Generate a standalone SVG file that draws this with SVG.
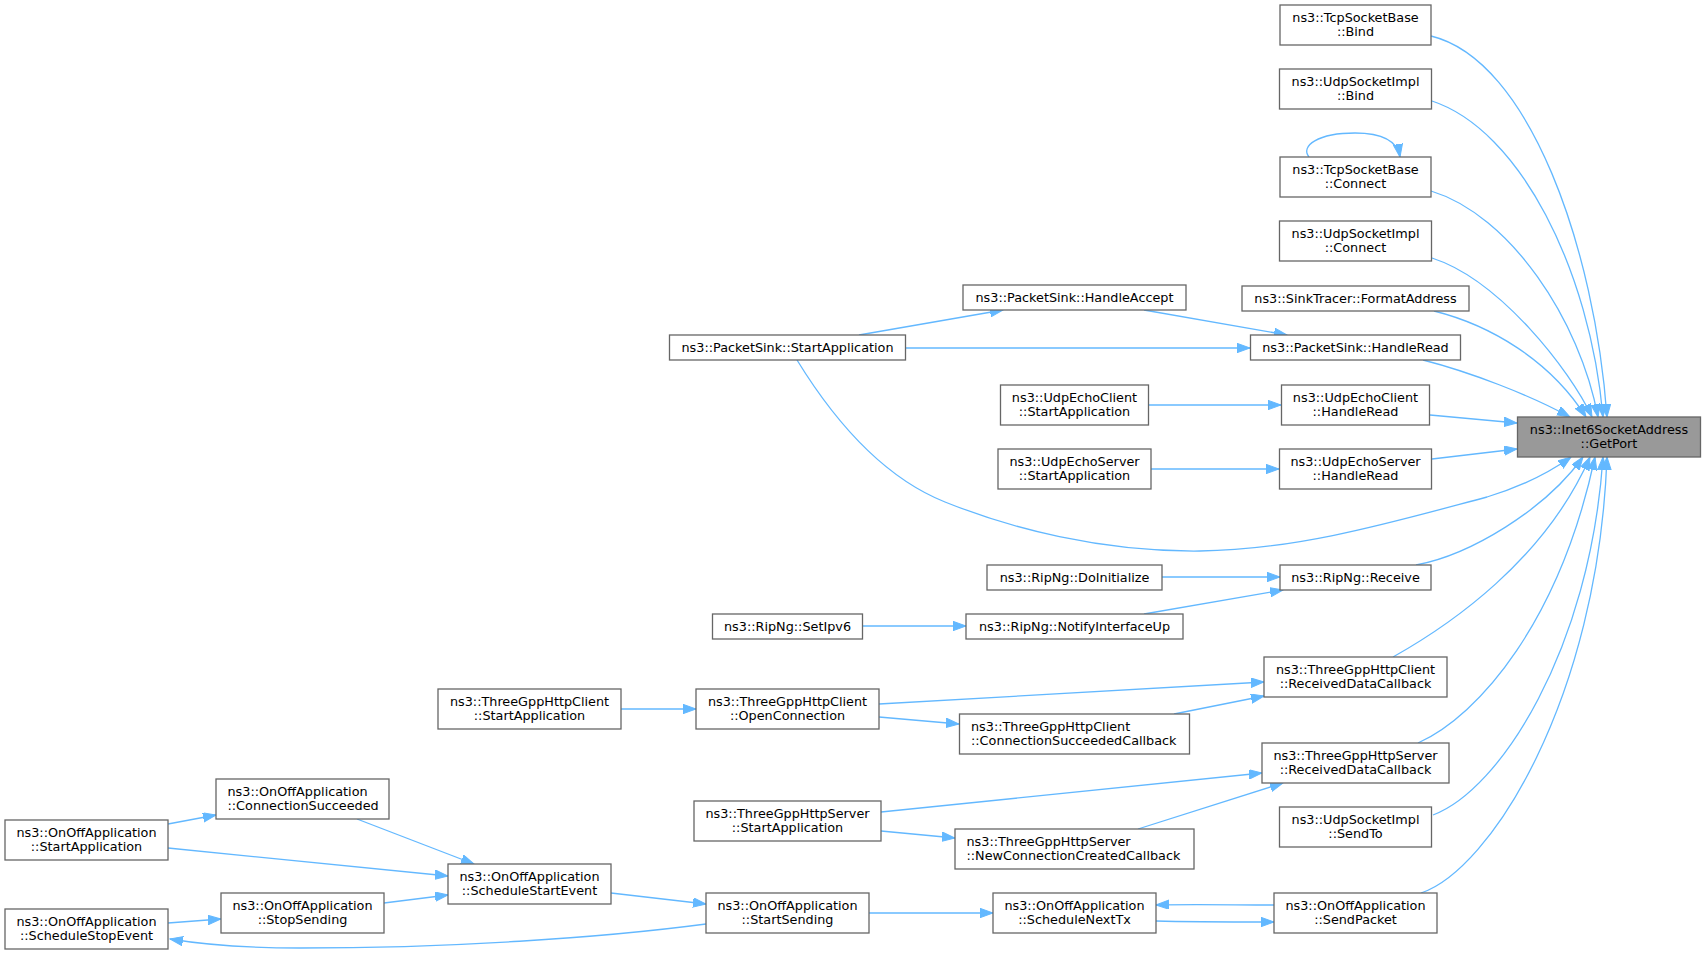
<svg xmlns="http://www.w3.org/2000/svg" width="1707" height="955" viewBox="0 0 1707 955">
<style>
.node rect{fill:#ffffff;stroke:#666666;stroke-width:1.3}
.node.hl rect{fill:#999999}
.node text{font-family:"DejaVu Sans","Liberation Sans",sans-serif;font-size:12.8px;fill:#000000;text-anchor:middle}
.node text.l{text-anchor:start}
.edges path{fill:none;stroke:#63b8ff;stroke-width:1.3;marker-end:url(#ah)}
</style>
<defs>
<marker id="ah" markerUnits="userSpaceOnUse" markerWidth="14" markerHeight="10" refX="13" refY="4.7" orient="auto">
<path d="M0,0 L13,4.7 L0,9.4 z" fill="#63b8ff" stroke="#63b8ff" stroke-width="1"/>
</marker>
</defs>
<rect width="1707" height="955" fill="#ffffff"/>
<g class="edges">
<path d="M1431,36 C1530,60 1595,250 1607,417"/>
<path d="M1432,101 C1520,130 1590,270 1603,417"/>
<path d="M1431,191 C1510,215 1580,320 1598,417"/>
<path d="M1309,157 C1300,146 1318,133 1355,133 C1380,133 1397,139 1400,157"/>
<path d="M1432,258 C1500,280 1570,370 1592,417"/>
<path d="M1434,311 C1490,325 1550,360 1586,417"/>
<path d="M1423,360 C1470,372 1530,395 1570,417"/>
<path d="M1430,415 L1517,423"/>
<path d="M1432,459 L1517,449"/>
<path d="M797,360 C840,430 890,480 945,502 C1010,528 1100,552 1200,551 C1300,550 1400,520 1487,497 C1520,487 1550,472 1571,457"/>
<path d="M1416,565 C1470,555 1545,510 1583,457"/>
<path d="M1393,657 C1450,625 1545,560 1590,457"/>
<path d="M1418,743 C1480,715 1560,620 1595,457"/>
<path d="M1433,815 C1500,790 1590,650 1603,457"/>
<path d="M1421,893 C1490,870 1598,700 1607,457"/>
<path d="M1144,310 L1287,335"/>
<path d="M859,335 L1003,310"/>
<path d="M906,348 L1250,348"/>
<path d="M1148,405 L1281,405"/>
<path d="M1151,469 L1279,469"/>
<path d="M1162,577 L1280,577"/>
<path d="M1144,614 L1283,590"/>
<path d="M863,626 L966,626"/>
<path d="M879,704 L1264,682"/>
<path d="M879,717 L959,724"/>
<path d="M1174,714 L1264,696"/>
<path d="M621,709 L696,709"/>
<path d="M881,812 L1262,773"/>
<path d="M881,831 L955,838"/>
<path d="M1138,829 L1283,783"/>
<path d="M611,893 L706,904"/>
<path d="M869,913 L993,913"/>
<path d="M706,924 C600,938 450,948 300,948 C240,948 200,944 170,939"/>
<path d="M1156,921 C1190,922 1230,922 1274,922"/>
<path d="M1274,905 C1235,905 1195,904 1156,905"/>
<path d="M357,819 L474,864"/>
<path d="M168,824 L216,815"/>
<path d="M168,848 L448,876"/>
<path d="M384,903 L448,895"/>
<path d="M168,923 L221,919"/>
</g>
<g id="n_getport" class="node hl"><rect x="1517.5" y="417" width="183" height="40"/><text x="1609" y="433.5">ns3::Inet6SocketAddress<tspan x="1609" y="448">::GetPort</tspan></text></g>
<g id="n_tcpbind" class="node"><rect x="1280" y="5" width="151" height="40"/><text x="1355.5" y="21.5">ns3::TcpSocketBase<tspan x="1355.5" y="36">::Bind</tspan></text></g>
<g id="n_udpbind" class="node"><rect x="1279.5" y="69" width="152" height="40"/><text x="1355.5" y="85.5">ns3::UdpSocketImpl<tspan x="1355.5" y="100">::Bind</tspan></text></g>
<g id="n_tcpconnect" class="node"><rect x="1280" y="157" width="151" height="40"/><text x="1355.5" y="173.5">ns3::TcpSocketBase<tspan x="1355.5" y="188">::Connect</tspan></text></g>
<g id="n_udpconnect" class="node"><rect x="1279.5" y="221" width="152" height="40"/><text x="1355.5" y="237.5">ns3::UdpSocketImpl<tspan x="1355.5" y="252">::Connect</tspan></text></g>
<g id="n_formataddr" class="node"><rect x="1242" y="286" width="227" height="25"/><text x="1355.5" y="303">ns3::SinkTracer::FormatAddress</text></g>
<g id="n_psinkread" class="node"><rect x="1250.5" y="335" width="210" height="25"/><text x="1355.5" y="352">ns3::PacketSink::HandleRead</text></g>
<g id="n_echoclread" class="node"><rect x="1281.5" y="385" width="148" height="40"/><text x="1355.5" y="401.5">ns3::UdpEchoClient<tspan x="1355.5" y="416">::HandleRead</tspan></text></g>
<g id="n_echosvread" class="node"><rect x="1279.5" y="449" width="152" height="40"/><text x="1355.5" y="465.5">ns3::UdpEchoServer<tspan x="1355.5" y="480">::HandleRead</tspan></text></g>
<g id="n_ripreceive" class="node"><rect x="1280" y="565" width="151" height="25"/><text x="1355.5" y="582">ns3::RipNg::Receive</text></g>
<g id="n_clrdc" class="node"><rect x="1264" y="657" width="183" height="40"/><text x="1355.5" y="673.5">ns3::ThreeGppHttpClient<tspan x="1355.5" y="688">::ReceivedDataCallback</tspan></text></g>
<g id="n_svrdc" class="node"><rect x="1262" y="743" width="187" height="40"/><text x="1355.5" y="759.5">ns3::ThreeGppHttpServer<tspan x="1355.5" y="774">::ReceivedDataCallback</tspan></text></g>
<g id="n_sendto" class="node"><rect x="1279.5" y="807" width="152" height="40"/><text x="1355.5" y="823.5">ns3::UdpSocketImpl<tspan x="1355.5" y="838">::SendTo</tspan></text></g>
<g id="n_sendpacket" class="node"><rect x="1274" y="893" width="163" height="40"/><text x="1355.5" y="909.5">ns3::OnOffApplication<tspan x="1355.5" y="924">::SendPacket</tspan></text></g>
<g id="n_psinkaccept" class="node"><rect x="963" y="285" width="223" height="25"/><text x="1074.5" y="302">ns3::PacketSink::HandleAccept</text></g>
<g id="n_psinkstart" class="node"><rect x="669.5" y="335" width="236" height="25"/><text x="787.5" y="352">ns3::PacketSink::StartApplication</text></g>
<g id="n_echoclstart" class="node"><rect x="1000.5" y="385" width="148" height="40"/><text x="1074.5" y="401.5">ns3::UdpEchoClient<tspan x="1074.5" y="416">::StartApplication</tspan></text></g>
<g id="n_echosvstart" class="node"><rect x="998" y="449" width="153" height="40"/><text x="1074.5" y="465.5">ns3::UdpEchoServer<tspan x="1074.5" y="480">::StartApplication</tspan></text></g>
<g id="n_ripinit" class="node"><rect x="987" y="565" width="175" height="25"/><text x="1074.5" y="582">ns3::RipNg::DoInitialize</text></g>
<g id="n_ripnotify" class="node"><rect x="966" y="614" width="217" height="25"/><text x="1074.5" y="631">ns3::RipNg::NotifyInterfaceUp</text></g>
<g id="n_ripsetipv6" class="node"><rect x="712.5" y="614" width="150" height="25"/><text x="787.5" y="631">ns3::RipNg::SetIpv6</text></g>
<g id="n_clopen" class="node"><rect x="696" y="689" width="183" height="40"/><text x="787.5" y="705.5">ns3::ThreeGppHttpClient<tspan x="787.5" y="720">::OpenConnection</tspan></text></g>
<g id="n_clconnsucc" class="node"><rect x="959.5" y="714" width="230" height="40"/><text class="l" x="971" y="730.5">ns3::ThreeGppHttpClient<tspan x="971" y="745">::ConnectionSucceededCallback</tspan></text></g>
<g id="n_clstart" class="node"><rect x="438" y="689" width="183" height="40"/><text x="529.5" y="705.5">ns3::ThreeGppHttpClient<tspan x="529.5" y="720">::StartApplication</tspan></text></g>
<g id="n_svstart" class="node"><rect x="694" y="801" width="187" height="40"/><text x="787.5" y="817.5">ns3::ThreeGppHttpServer<tspan x="787.5" y="832">::StartApplication</tspan></text></g>
<g id="n_svnewconn" class="node"><rect x="955" y="829" width="239" height="40"/><text class="l" x="966.5" y="845.5">ns3::ThreeGppHttpServer<tspan x="966.5" y="860">::NewConnectionCreatedCallback</tspan></text></g>
<g id="n_schedstart" class="node"><rect x="448" y="864" width="163" height="40"/><text x="529.5" y="880.5">ns3::OnOffApplication<tspan x="529.5" y="895">::ScheduleStartEvent</tspan></text></g>
<g id="n_startsending" class="node"><rect x="706" y="893" width="163" height="40"/><text x="787.5" y="909.5">ns3::OnOffApplication<tspan x="787.5" y="924">::StartSending</tspan></text></g>
<g id="n_schednexttx" class="node"><rect x="993" y="893" width="163" height="40"/><text x="1074.5" y="909.5">ns3::OnOffApplication<tspan x="1074.5" y="924">::ScheduleNextTx</tspan></text></g>
<g id="n_connsucc" class="node"><rect x="216" y="779" width="173" height="40"/><text class="l" x="227.5" y="795.5">ns3::OnOffApplication<tspan x="227.5" y="810">::ConnectionSucceeded</tspan></text></g>
<g id="n_onoffstart" class="node"><rect x="5" y="820" width="163" height="40"/><text x="86.5" y="836.5">ns3::OnOffApplication<tspan x="86.5" y="851">::StartApplication</tspan></text></g>
<g id="n_stopsending" class="node"><rect x="221" y="893" width="163" height="40"/><text x="302.5" y="909.5">ns3::OnOffApplication<tspan x="302.5" y="924">::StopSending</tspan></text></g>
<g id="n_schedstop" class="node"><rect x="5" y="909" width="163" height="40"/><text x="86.5" y="925.5">ns3::OnOffApplication<tspan x="86.5" y="940">::ScheduleStopEvent</tspan></text></g>
</svg>
